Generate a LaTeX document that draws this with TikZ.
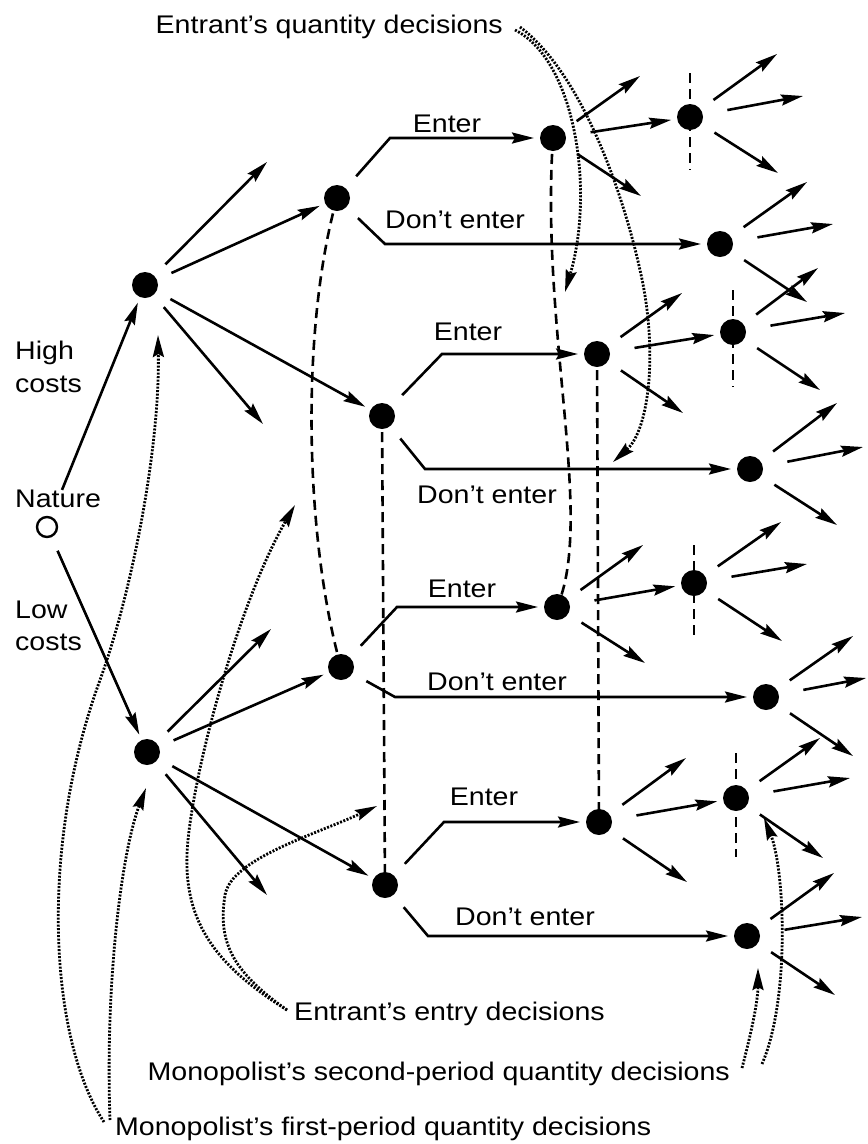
\documentclass[tikz,border=0pt]{standalone}
\usepackage{fontspec}
\setmainfont{Liberation Sans}[FakeStretch=1.12]
\usetikzlibrary{arrows.meta}
\tikzset{
  dot/.style={circle, fill=black, minimum size=26pt, inner sep=0pt, outer sep=6pt},
  nat/.style={circle, draw, line width=2.4pt, minimum size=20pt, inner sep=0pt, outer sep=0pt},
  tip/.style={-{Stealth[length=22pt,width=11pt,inset=3pt]}},
  arr/.style={line width=2.6pt, tip, shorten <=10pt},
  rarr/.style={arr, shorten <=19pt},
  dsh/.style={line width=2.6pt, dash pattern=on 10pt off 6pt},
  dtt/.style={line width=2.8pt, dash pattern=on 2pt off 1.5pt, tip},
  lbl/.style={inner sep=0pt, anchor=base},
}
\begin{document}
\begin{tikzpicture}[x=1pt,y=-1pt,font=\fontsize{25.5}{33}\selectfont]
\useasboundingbox (0,0) rectangle (868,1144);
\fill[white] (0,0) rectangle (868,1144);

% ---------- nodes ----------
\node[nat] (N) at (47,527) {};
\node[dot] (H) at (145,285) {};
\node[dot] (L) at (147,752) {};
\node[dot] (E1) at (337,198) {};
\node[dot] (E2) at (382,416) {};
\node[dot] (E3) at (341,667) {};
\node[dot] (E4) at (385,885) {};
\node[dot] (Q1) at (553,138) {};
\node[dot] (Q2) at (597,354) {};
\node[dot] (Q3) at (557,607) {};
\node[dot] (Q4) at (599,822) {};
\node[dot] (S1) at (690,117) {};
\node[dot] (S2) at (733,332) {};
\node[dot] (S3) at (694,583) {};
\node[dot] (S4) at (736,798) {};
\node[dot] (D1) at (720,244) {};
\node[dot] (D2) at (750,469) {};
\node[dot] (D3) at (766,697) {};
\node[dot] (D4) at (747,936) {};

% ---------- text ----------
\node[lbl, anchor=base west] (natl) at (15,507) {Nature};
\node[lbl, anchor=base west] (hi1) at (15,359) {High};
\node[lbl, anchor=base west] (hi2) at (15,392) {costs};
\node[lbl, anchor=base west] (lo1) at (15,618) {Low};
\node[lbl, anchor=base west] (lo2) at (15,650) {costs};
\node[lbl] (en1) at (447,132) {Enter};
\node[lbl] (en2) at (468,340) {Enter};
\node[lbl] (en3) at (462,597) {Enter};
\node[lbl] (en4) at (484,805) {Enter};
\node[lbl] (de1) at (455,228) {Don't enter};
\node[lbl] (de2) at (487,503) {Don't enter};
\node[lbl] (de3) at (497,690) {Don't enter};
\node[lbl] (de4) at (525,925) {Don't enter};
\node[lbl, anchor=base east] (LQ) at (503,33) {Entrant's quantity decisions};
\node[lbl, anchor=base west] (LE) at (294,1020) {Entrant's entry decisions};
\node[lbl, anchor=base east] (LM2) at (730,1080) {Monopolist's second-period quantity decisions};
\node[lbl, anchor=base west] (LM1) at (115,1135) {Monopolist's first-period quantity decisions};

% ---------- nature ----------
\draw[line width=2.6pt, tip, shorten <=30pt] (N) -- (H);
\draw[line width=2.6pt, tip, shorten <=16pt] (N) -- (L);

% ---------- monopolist first period ----------
\coordinate (h1) at (267,162);
\coordinate (h4) at (263,424);
\coordinate (l1) at (271,629);
\coordinate (l4) at (267,895);
\draw[arr] (H) -- (h1);
\draw[arr] (H) -- (E1);
\draw[arr] (H) -- (E2);
\draw[arr] (H) -- (h4);
\draw[arr] (L) -- (l1);
\draw[arr] (L) -- (E3);
\draw[arr] (L) -- (E4);
\draw[arr] (L) -- (l4);

% ---------- entry decisions ----------
\coordinate (c1e) at (390,138);  \coordinate (c1d) at (385,244);
\coordinate (c2e) at (442,354);  \coordinate (c2d) at (425,469);
\coordinate (c3e) at (397,607);  \coordinate (c3d) at (395,697);
\coordinate (c4e) at (444,822);  \coordinate (c4d) at (428,936);
\draw[arr] (E1) -- (c1e) -- (Q1);
\draw[arr] (E1) -- (c1d) -- (D1);
\draw[arr] (E2) -- (c2e) -- (Q2);
\draw[arr] (E2) -- (c2d) -- (D2);
\draw[arr] (E3) -- (c3e) -- (Q3);
\draw[arr] (E3) -- (c3d) -- (D3);
\draw[arr] (E4) -- (c4e) -- (Q4);
\draw[arr] (E4) -- (c4d) -- (D4);

% ---------- entrant quantity ----------
\foreach \nm/\ux/\uy/\dx/\dy in {Q1/640/76/641/196, Q2/682/293/683/413,
    Q3/643/545/645/663, Q4/686/758/687/882}{
  \coordinate (\nm-u) at (\ux,\uy);
  \coordinate (\nm-d) at (\dx,\dy);
  \draw[arr] (\nm) -- (\nm-u);
  \draw[arr] (\nm) -- (\nm-d);
}
\draw[rarr] (Q1) -- (S1);
\draw[rarr] (Q2) -- (S2);
\draw[rarr] (Q3) -- (S3);
\draw[rarr] (Q4) -- (S4);

% ---------- monopolist second period ----------
\foreach \nm/\ux/\uy/\rx/\ry/\dx/\dy in {
    S1/777/54/803/96/778/173, S2/818/268/845/313/820/390,
    S3/781/522/807/564/782/641, S4/820/738/850/778/823/858,
    D1/807/182/833/224/807/302, D2/837/403/863/447/837/525,
    D3/853/636/866/678/853/756, D4/834/873/862/917/835/995}{
  \coordinate (\nm-u) at (\ux,\uy);
  \coordinate (\nm-r) at (\rx,\ry);
  \coordinate (\nm-d) at (\dx,\dy);
  \draw[arr] (\nm) -- (\nm-u);
  \draw[rarr] (\nm) -- (\nm-r);
  \draw[arr] (\nm) -- (\nm-d);
}

% ---------- information sets ----------
\draw[dsh] (E1.center) .. controls (300,330) and (305,540) .. (E3.center);
\draw[dsh] (E2.center) -- (E4.center);
\draw[dsh] (Q1.center) .. controls (540,330) and (595,520) .. (Q3.center);
\draw[dsh] (Q2.center) -- (Q4.center);
\foreach \nm/\xx/\ta/\tb in {S1/690/73/170, S2/733/290/387, S3/694/545/640, S4/736/753/857}{
  \coordinate (\nm-t) at (\xx,\ta);
  \coordinate (\nm-b) at (\xx,\tb);
  \draw[dsh] (\nm-t) -- (\nm-b);
}

% ---------- pointers ----------
\coordinate (qs1) at (515,30);
\coordinate (qs2) at (520,27);
\coordinate (qt1) at (565,292);
\coordinate (qm2) at (640,270);
\coordinate (qt2) at (613,462);
\draw[dtt] (qs1) .. controls (575,60) and (595,190) .. (qt1);
\draw[dtt] (qs2) .. controls (585,76) and (625,202) .. (qm2) .. controls (658,348) and (650,429) .. (qt2);

\coordinate (es) at (287,1010);
\coordinate (em1) at (188,840);
\coordinate (et1) at (295,505);
\coordinate (em2) at (225,895);
\coordinate (et2) at (377,806);
\draw[dtt] (es) .. controls (215,965) and (180,920) .. (em1) .. controls (196,760) and (240,600) .. (et1);
\draw[dtt] (es) .. controls (230,970) and (218,940) .. (em2) .. controls (231,859) and (314,835) .. (et2);

\coordinate (fs1) at (104,1122);
\coordinate (fm1) at (100,680);
\coordinate (ft1) at (158,335);
\coordinate (fs2) at (110,1120);
\coordinate (ft2) at (146,788);
\draw[dtt] (fs1) .. controls (50,1040) and (38,850) .. (fm1) .. controls (131,595) and (160,450) .. (ft1);
\draw[dtt] (fs2) .. controls (105,980) and (122,850) .. (ft2);

\coordinate (ss1) at (742,1068);
\coordinate (st1) at (758,968);
\coordinate (ss2) at (762,1064);
\coordinate (st2) at (764,818);
\draw[dtt] (ss1) .. controls (752,1030) and (758,1000) .. (st1);
\draw[dtt] (ss2) .. controls (790,1000) and (785,870) .. (st2);
\end{tikzpicture}
\end{document}
